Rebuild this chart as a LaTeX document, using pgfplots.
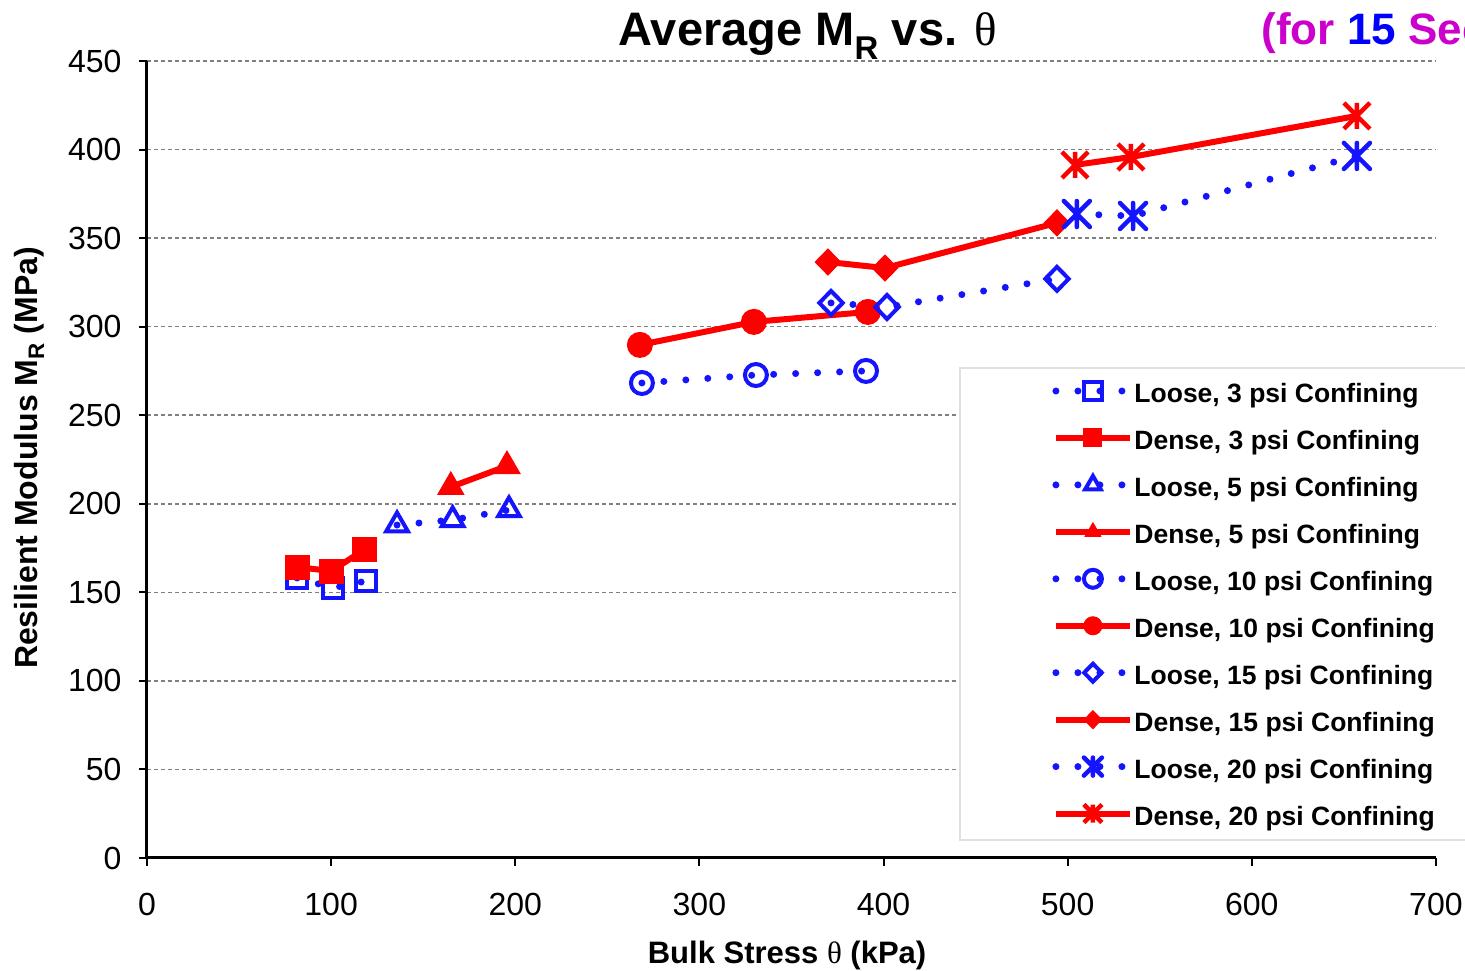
\documentclass[border=0pt]{standalone}
\usepackage{fontspec}
\setmainfont{Liberation Sans}
\newfontfamily\greekfont{Liberation Serif}
\usepackage{pgfplots}
\pgfplotsset{compat=1.18}
\definecolor{lblue}{RGB}{20,20,255}
\definecolor{dred}{RGB}{255,0,0}
\definecolor{mag}{RGB}{204,0,204}
\pgfdeclareplotmark{xstar}{%
  \pgfpathmoveto{\pgfqpoint{0pt}{\pgfplotmarksize}}\pgfpathlineto{\pgfqpoint{0pt}{-\pgfplotmarksize}}%
  \pgfpathmoveto{\pgfqpoint{-\pgfplotmarksize}{\pgfplotmarksize}}\pgfpathlineto{\pgfqpoint{\pgfplotmarksize}{-\pgfplotmarksize}}%
  \pgfpathmoveto{\pgfqpoint{-\pgfplotmarksize}{-\pgfplotmarksize}}\pgfpathlineto{\pgfqpoint{\pgfplotmarksize}{\pgfplotmarksize}}%
  \pgfusepathqstroke}
\pgfplotsset{
  loose/.style={lblue, line width=7pt, dash pattern=on 0pt off 22pt, line cap=round,
     mark options={solid, line width=4pt, fill=none}},
  dense/.style={dred, line width=6pt, solid, mark options={solid, line width=1pt}},
}
\begin{document}
\begin{tikzpicture}
\begin{axis}[name=ax, scale only axis, width=1289pt, height=797pt,
  xmin=0, xmax=700, ymin=0, ymax=450, clip=false,
  xtick={0,100,...,700}, ytick={0,50,...,450},
  axis x line=bottom, axis y line=left,
  axis line style={-, line width=3pt, black},
  tick style={line width=2pt, black}, tick align=outside, major tick length=8pt,
  ymajorgrids, grid style={gray, line width=1.5pt, dash pattern=on 4pt off 3pt},
  ticklabel style={font=\fontsize{32}{38}\selectfont},
  /pgf/number format/assume math mode=true,
  yticklabel style={xshift=-14pt},
  xticklabel style={yshift=-24pt},
  legend style={draw=none, fill=none, at={(axis cs:490,270)}, anchor=north west,
     font=\bfseries\fontsize{26.5}{28}\selectfont, row sep=24.6pt,
     nodes={inner xsep=1pt, inner ysep=0pt}},
  legend cell align=left,
  legend image code/.code={\draw[mark repeat=2,mark phase=2,#1, mark size=9pt] plot coordinates {(0pt,3pt) (37pt,3pt) (74pt,3pt)};},
]
\fill[white] (axis cs:441.5,276.7) rectangle (axis cs:730,10.2);
\draw[black!12, line width=1.5pt] (axis cs:730,276.7) -- (axis cs:441.5,276.7) -- (axis cs:441.5,10.2) -- (axis cs:730,10.2);
\addplot[loose, mark=square, mark size=10pt] coordinates {(81.5,158.1) (101,152.5) (119,156.4)};
\addlegendentry{Loose, 3 psi Confining}
\addplot[dense, mark=square*, mark size=12pt] coordinates {(81.5,164.3) (100,162) (118,174)};
\addlegendentry{Dense, 3 psi Confining}
\addplot[loose, mark=triangle, mark size=12.5pt] coordinates {(135.8,188) (166,190.9) (196.6,196.5)};
\addlegendentry{Loose, 5 psi Confining}
\addplot[dense, mark=triangle*, mark size=15pt] coordinates {(165,209.5) (195.5,221.3)};
\addlegendentry{Dense, 5 psi Confining}
\addplot[loose, mark=o, mark size=11pt] coordinates {(268.8,268.2) (330.7,272.7) (390.5,275)};
\addlegendentry{Loose, 10 psi Confining}
\addplot[dense, mark=*, mark size=12.5pt] coordinates {(267.7,289.7) (329.6,302.7) (391.5,308.3)};
\addlegendentry{Dense, 10 psi Confining}
\addplot[loose, mark=diamond, mark size=12pt, mark options={solid, line width=4pt, fill=none, xscale=1.3}] coordinates {(371.5,313.4) (401.9,311.1) (494.2,327)};
\addlegendentry{Loose, 15 psi Confining}
\addplot[dense, mark=diamond*, mark size=13pt, mark options={solid, line width=1pt, xscale=1.3}] coordinates {(369.8,336.5) (400.8,333.1) (494.2,358.6)};
\addlegendentry{Dense, 15 psi Confining}
\addplot[loose, mark=xstar, mark size=13pt, mark options={solid, line width=4.5pt}] coordinates {(505,363.6) (535.5,362.5) (657.1,396.4)};
\addlegendentry{Loose, 20 psi Confining}
\addplot[dense, mark=xstar, mark size=13pt, mark options={solid, line width=4.5pt}] coordinates {(504,391.3) (534.4,395.8) (657.1,419)};
\addlegendentry{Dense, 20 psi Confining}
\node[anchor=center] at (axis description cs:0.5128,1.031) {\bfseries\fontsize{47}{50}\selectfont Average M\textsubscript{R} vs. {\greekfont\mdseries θ}};
\node[anchor=west, text=mag] at (axis description cs:0.862,1.035) {\bfseries\fontsize{44}{48}\selectfont (for \textcolor{blue}{15} Seconds)};
\node[anchor=center] at (axis description cs:0.4966,-0.1225) {\bfseries\fontsize{31}{34}\selectfont Bulk Stress {\greekfont\mdseries θ} (kPa)};
\node[anchor=center, rotate=90] at (axis description cs:-0.0915,0.502) {\bfseries\fontsize{32}{34}\selectfont Resilient Modulus M\textsubscript{R} (MPa)};
\end{axis}
\pgfresetboundingbox
\path[use as bounding box] ([shift={(-147pt,-113pt)}]ax.south west) rectangle ([shift={(1318pt,858pt)}]ax.south west);
\end{tikzpicture}
\end{document}
